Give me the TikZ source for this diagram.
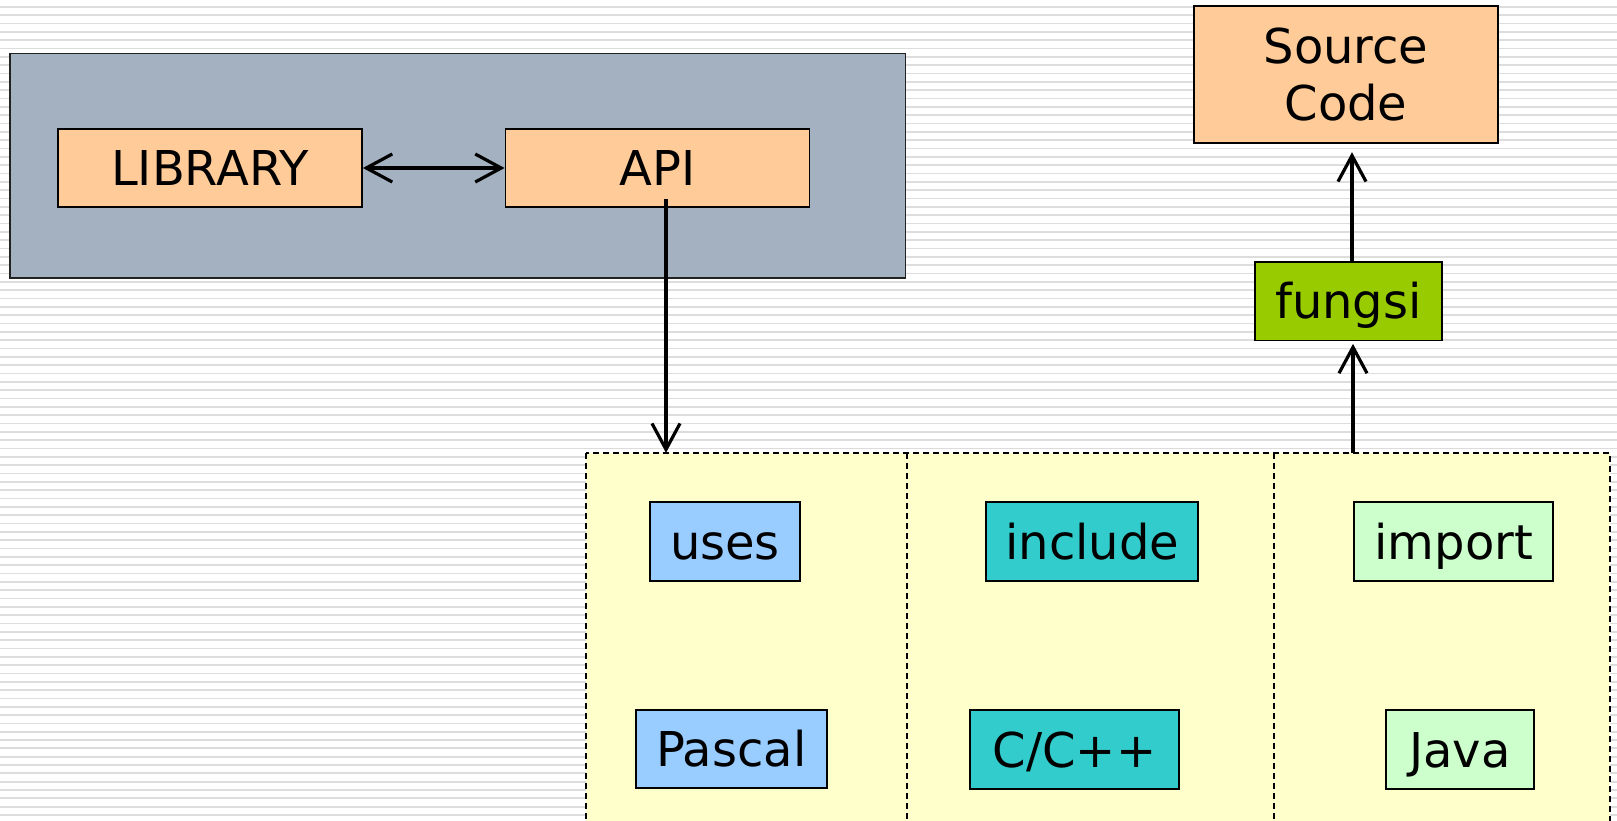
\documentclass[tikz,border=0pt]{standalone}
\usepackage{fontspec}
\setmainfont{DejaVu Sans}
\usetikzlibrary{arrows.meta}
\definecolor{bggray}{HTML}{A3B1C0}
\definecolor{peach}{HTML}{FFCC99}
\definecolor{limeg}{HTML}{99CC00}
\definecolor{skyb}{HTML}{99CCFF}
\definecolor{tealc}{HTML}{33CCCC}
\definecolor{mintc}{HTML}{CCFFCC}
\definecolor{creamc}{HTML}{FFFFCC}
\definecolor{stripec}{HTML}{DDDDDD}
\definecolor{framec}{HTML}{222222}
\begin{document}
\begin{tikzpicture}[x=1pt,y=-1pt,
  sz/.style 2 args={minimum width=#1pt,minimum height=#2pt},
  lbl/.style={draw=black,line width=1.8pt,inner sep=0pt,
    font=\fontsize{48}{57}\selectfont,text height=35pt,text depth=0pt},
  col/.style={fill=creamc,inner sep=0pt},
  dashline/.style={draw=black,line width=1.5pt,dash pattern=on 6pt off 4pt},
  frame/.style={draw=framec,fill=bggray,line width=1.8pt,inner sep=0pt},
  arr/.style={line width=3.2pt,-{Straight Barb[length=26pt,width=28pt]}},
  darr/.style={line width=3.2pt,{Straight Barb[length=26pt,width=28pt]}-{Straight Barb[length=26pt,width=28pt]}},
  stripeline/.style={draw=stripec,line width=1.7pt}]
\useasboundingbox (0,0) rectangle (1617,820);
\clip (0,0) rectangle (1617,820);
\fill[white] (0,0) rectangle (1617,820);
\foreach \i in {0,...,98} {
  \draw[stripeline] (0,{6.7+8.333*\i}) -- (1617,{6.7+8.333*\i});
}
% gray frame
\node[frame,sz={895.5}{224.5}] (frm) at (457.75,165.75) {};
\node[lbl,fill=peach,sz={304}{78}] (lib) at (210,168) {LIBRARY};
\node[lbl,fill=peach,sz={304}{78}] (api) at (657.5,168) {API};
% source code and fungsi
\node[lbl,fill=peach,sz={304}{137.6},align=center,text height=92pt] (src) at (1346,74.5) {Source\\Code};
\node[lbl,fill=limeg,sz={187}{78.5}] (fun) at (1348.4,301.2) {fungsi};
% columns
\node[col,sz={320.7}{377}] (colA) at (746.35,641.5) {};
\node[col,sz={367.3}{377}] (colB) at (1090.35,641.5) {};
\node[col,sz={336}{377}] (colC) at (1442,641.5) {};
\draw[dashline] (colA.north west) rectangle (colC.south east);
\draw[dashline] (colA.north east) -- (colA.south east);
\draw[dashline] (colB.north east) -- (colB.south east);
% language boxes
\node[lbl,fill=skyb,sz={150}{79}] (uses) at (725,541.5) {uses};
\node[lbl,fill=skyb,sz={190.7}{78.3}] (pas) at (731.3,749.2) {Pascal};
\node[lbl,fill=tealc,sz={212.3}{79}] (inc) at (1092.2,541.5) {include};
\node[lbl,fill=tealc,sz={209}{79}] (cpp) at (1074.5,749.5) {C/C++};
\node[lbl,fill=mintc,sz={199.3}{79}] (imp) at (1453.7,541.5) {import};
\node[lbl,fill=mintc,sz={148.6}{79}] (jav) at (1460,749.5) {Java};
% connectors
\draw[darr] (lib.east) -- (api.west);
\draw[arr] ([xshift=8.5pt,yshift=9pt]api.south) -- ([xshift=8.5pt]api.south |- colA.north);
\draw[arr] ([xshift=4.6pt]fun.south |- colC.north) -- ([xshift=4.6pt,yshift=-2.5pt]fun.south);
\draw[arr,shorten >=8pt] ([xshift=6pt]src.south |- fun.north) -- ([xshift=6pt]src.south);
\end{tikzpicture}
\end{document}
